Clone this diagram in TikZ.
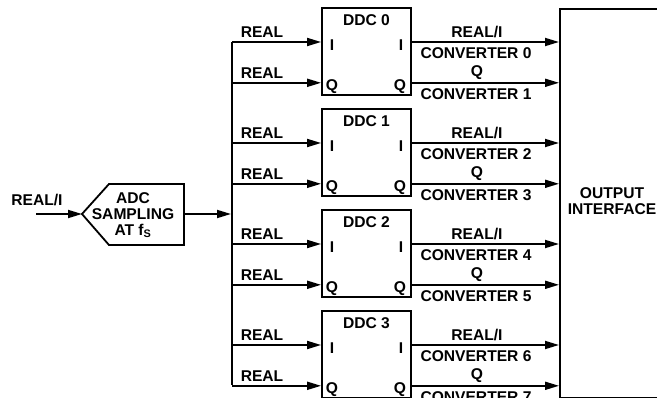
\documentclass[tikz,border=0pt]{standalone}
\usepackage{fontspec}
\setmainfont{Liberation Sans}
\usetikzlibrary{arrows.meta}
\begin{document}
\begin{tikzpicture}[x=1pt,y=-1pt,
  font=\fontsize{15.6}{16}\selectfont\bfseries,
  line width=1.8pt,
  arr/.style={-{Triangle[length=14pt,width=8pt]}},
  lbl/.style={inner sep=0pt, anchor=center},
  ddcbox/.style={draw, minimum width=89pt, minimum height=87pt, inner sep=0pt}]
\useasboundingbox (0,0) rectangle (657,398);
\clip (0,0) rectangle (657,398);

% input and ADC
\coordinate (inS) at (36,214);
\coordinate (tip) at (82,214);
\coordinate (adcR) at (184,214);
\node[lbl] (inlbl) at (37,200) {REAL/I};
\draw[arr] (inS) -- (tip);
\draw[line join=miter] (tip) -- (109,184) -- (184,184) -- (184,245) -- (109,245) -- cycle;
\node[lbl, align=center] (adc) at (133,215) {ADC\\SAMPLING\\AT f\textsubscript{S}};
\coordinate (busM) at (231,214);
\draw[arr] (adcR) -- (busM);

% bus
\coordinate (busT) at (232,42);
\coordinate (busB) at (232,385.5);
\draw (busT) -- (busB);

% output interface
\node[draw, minimum width=150pt, minimum height=389pt, anchor=north west, inner sep=0pt] (out) at (559,8) {};
\node[lbl, align=center] (outlbl) at (612,201) {OUTPUT\\INTERFACE};

\foreach \k in {0,1,2,3}{
  \pgfmathsetmacro{\cy}{51.5+101*\k}
  \pgfmathsetmacro{\Iy}{42+101*\k}
  \pgfmathsetmacro{\Qy}{82.8+101*\k}
  \pgfmathtruncatemacro{\ca}{2*\k}
  \pgfmathtruncatemacro{\cb}{2*\k+1}
  \node[ddcbox] (ddc\k) at (366.5,\cy) {};
  \node[lbl] (ddct\k) at (366.5,20+101*\k) {DDC \k};
  \node[lbl] (il\k) at (332,\Iy+3) {I};
  \node[lbl] (ir\k) at (401,\Iy+3) {I};
  \node[lbl] (ql\k) at (332,\Qy+4) {Q};
  \node[lbl] (qr\k) at (400,\Qy+4) {Q};
  \coordinate (bi\k) at (232,\Iy);
  \coordinate (bq\k) at (232,\Qy);
  \draw[arr] (bi\k) -- (ddc\k.west |- bi\k);
  \draw[arr] (bq\k) -- (ddc\k.west |- bq\k);
  \node[lbl] (ri\k) at (262,\Iy-10) {REAL};
  \node[lbl] (rq\k) at (262,\Qy-10) {REAL};
  \draw[arr] (ddc\k.east |- bi\k) -- (out.west |- bi\k);
  \draw[arr] (ddc\k.east |- bq\k) -- (out.west |- bq\k);
  \node[lbl] (oi\k) at (477,\Iy-10) {REAL/I};
  \node[lbl] (ci\k) at (476,\Iy+11) {CONVERTER \ca};
  \node[lbl] (oq\k) at (477,\Qy-10) {Q};
  \node[lbl] (cq\k) at (476,\Qy+11) {CONVERTER \cb};
}
\end{tikzpicture}
\end{document}
